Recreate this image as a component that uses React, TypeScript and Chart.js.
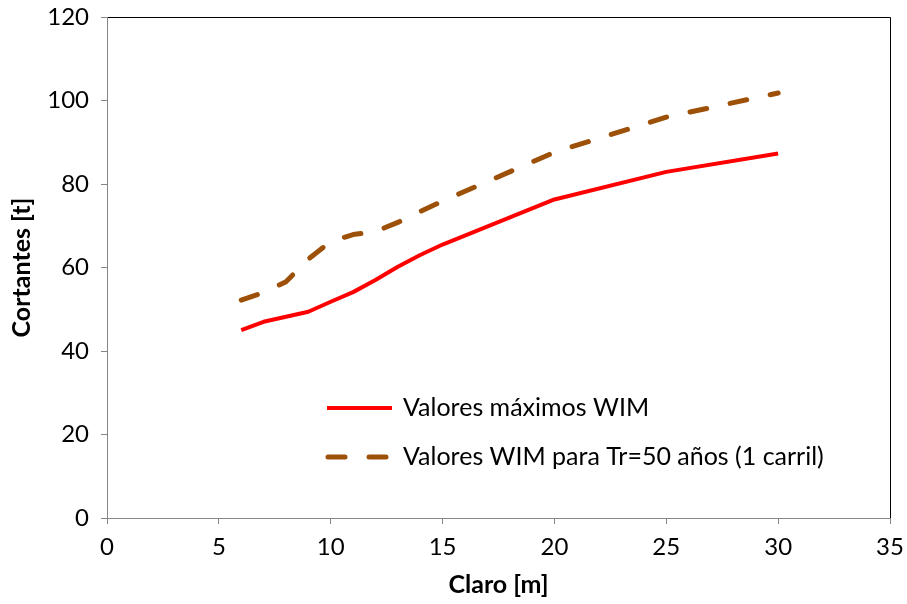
import React, { useEffect, useRef } from "react";
import { Chart, registerables } from "chart.js";

Chart.register(...registerables);

const claro = [6, 7, 8, 9, 10, 11, 12, 13, 14, 15, 20, 25, 30];
const maxWIM = [45.0, 47.0, 48.2, 49.4, 51.8, 54.1, 57.0, 60.2, 63.0, 65.5, 76.3, 82.9, 87.3];
const wimTr50 = [52.2, 54.0, 56.6, 62.0, 66.2, 67.9, 68.6, 70.8, 73.4, 75.9, 87.6, 96.0, 101.8];
const seriesLabels = ["Valores máximos WIM", "Valores WIM para Tr=50 años (1 carril)"];
const xTitle = "Claro [m]";
const yTitle = "Cortantes [t]";

const FONT = "Lato, 'Open Sans', sans-serif";
const AXIS_GRAY = "#868686";

const frameAndLegend = {
  id: "frameAndLegend",
  beforeDraw(chart: any) {
    const { ctx, chartArea } = chart;
    ctx.save();
    ctx.strokeStyle = "#000";
    ctx.lineWidth = 1;
    ctx.beginPath();
    ctx.moveTo(Math.round(chartArea.left) + 0.5, Math.round(chartArea.top) + 0.5);
    ctx.lineTo(Math.round(chartArea.right) + 0.5, Math.round(chartArea.top) + 0.5);
    ctx.lineTo(Math.round(chartArea.right) + 0.5, Math.round(chartArea.bottom) + 0.5);
    ctx.stroke();
    ctx.restore();
  },
  afterDraw(chart: any) {
    const { ctx } = chart;
    const x0 = 327;
    const x1 = 392;
    const rows = [408, 457];
    ctx.save();
    chart.data.datasets.forEach((ds: any, i: number) => {
      const y = rows[i];
      ctx.strokeStyle = ds.borderColor;
      ctx.lineWidth = ds.borderWidth;
      ctx.lineCap = ds.borderCapStyle || "butt";
      ctx.setLineDash(ds.borderDash || []);
      ctx.beginPath();
      if (ds.borderDash && ds.borderDash.length) {
        ctx.moveTo(x0 + 1, y);
        ctx.lineTo(x1, y);
      } else {
        ctx.moveTo(x0, y);
        ctx.lineTo(x1, y);
      }
      ctx.stroke();
      ctx.setLineDash([]);
      ctx.fillStyle = "#000";
      ctx.font = `25px ${FONT}`;
      ctx.textBaseline = "middle";
      ctx.textAlign = "left";
      ctx.fillText(ds.label, 403, y);
    });
    ctx.restore();
  },
};

export default function App() {
  const ref = useRef<HTMLCanvasElement | null>(null);

  useEffect(() => {
    if (!ref.current) return;
    const chart = new Chart(ref.current, {
      type: "line",
      data: {
        datasets: [
          {
            label: seriesLabels[0],
            data: claro.map((x, i) => ({ x, y: maxWIM[i] })),
            borderColor: "#FF0000",
            borderWidth: 4,
            pointRadius: 0,
            tension: 0,
            borderJoinStyle: "round",
            fill: false,
          },
          {
            label: seriesLabels[1],
            data: claro.map((x, i) => ({ x, y: wimTr50[i] })),
            borderColor: "#9C5008",
            borderWidth: 5,
            borderDash: [17, 24],
            borderCapStyle: "round",
            borderJoinStyle: "round",
            pointRadius: 0,
            tension: 0,
            fill: false,
          },
        ],
      },
      options: {
        responsive: false,
        animation: false,
        layout: { padding: { top: 17, right: 17, left: 0, bottom: 0 } },
        plugins: {
          legend: { display: false },
          tooltip: { enabled: false },
        },
        scales: {
          x: {
            type: "linear",
            min: 0,
            max: 35,
            ticks: {
              stepSize: 5,
              color: "#000",
              font: { family: FONT, size: 24 },
              padding: 9,
              maxRotation: 0,
            },
            grid: {
              drawOnChartArea: false,
              drawTicks: true,
              tickLength: 6,
              color: AXIS_GRAY,
            },
            border: { color: AXIS_GRAY, width: 1 },
            title: {
              display: true,
              text: xTitle,
              color: "#000",
              font: { family: FONT, size: 25, weight: "bold" },
              padding: { top: 0, bottom: 4 },
            },
            afterFit(scale: any) {
              scale.height = 86;
              scale.paddingLeft = 0;
              scale.paddingRight = 0;
            },
          },
          y: {
            type: "linear",
            min: 0,
            max: 120,
            ticks: {
              stepSize: 20,
              color: "#000",
              font: { family: FONT, size: 24 },
              padding: 12,
            },
            grid: {
              drawOnChartArea: false,
              drawTicks: true,
              tickLength: 6,
              color: AXIS_GRAY,
            },
            border: { color: AXIS_GRAY, width: 1 },
            title: {
              display: true,
              text: yTitle,
              color: "#000",
              font: { family: FONT, size: 25, weight: "bold" },
              padding: { top: 7, bottom: 0 },
            },
            afterFit(scale: any) {
              scale.width = 107;
              scale.paddingTop = 0;
              scale.paddingBottom = 0;
            },
          },
        },
      },
      plugins: [frameAndLegend],
    } as any);
    return () => chart.destroy();
  }, []);

  return (
    <div style={{ position: "fixed", left: 0, top: 0, width: 907, height: 604, background: "#fff" }}>
      <canvas ref={ref} width={907} height={604} />
    </div>
  );
}
